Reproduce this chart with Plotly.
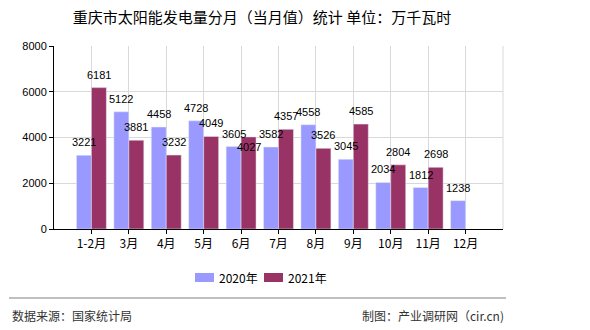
import plotly.graph_objects as go

categories = ["1-2月", "3月", "4月", "5月", "6月", "7月", "8月", "9月", "10月", "11月", "12月"]
values_2020 = [3221, 5122, 4458, 4728, 3605, 3582, 4558, 3045, 2034, 1812, 1238]
values_2021 = [6181, 3881, 3232, 4049, 4027, 4357, 3526, 4585, 2804, 2698, None]
y_ticks = [0, 2000, 4000, 6000, 8000]
series_names = ["2020年", "2021年"]
series_colors = ["#9999FF", "#993366"]

FONT = "SimSun, 'Noto Sans CJK SC', sans-serif"
NUMFONT = "'Liberation Sans', Arial, sans-serif"

W, H = 590, 330
L, R, T, B = 54, 503, 46, 229
pw, ph = R - L, B - T

def px(x):
    return (x - L) / pw

def py(y):
    return (B - y) / ph

fig = go.Figure()
for name, vals, col in zip(series_names, [values_2020, values_2021], series_colors):
    fig.add_trace(go.Bar(
        x=categories, y=vals, name=name, marker_color=col,
        showlegend=False, hoverinfo="x+y",
    ))

# value labels drawn on top of all bars (as in the reference)
slot = pw / 12.0
bar_w = slot * 0.8 / 2
for si, vals in enumerate([values_2020, values_2021]):
    xs = (-0.5 + si) * bar_w
    for cat, v in zip(categories, vals):
        if v is None:
            continue
        dy = 13
        if si == 1 and cat == "6月":
            dy = -10  # label pushed below bar top to avoid neighbour label
        fig.add_annotation(x=cat, y=v, xref="x", yref="y", text=str(v),
                           showarrow=False, xanchor="center", yanchor="middle",
                           xshift=xs, yshift=dy,
                           font=dict(size=11, color="#000000", family=NUMFONT))

fig.update_layout(
    width=W, height=H,
    margin=dict(l=L, r=W - R, t=T, b=H - B, pad=0),
    paper_bgcolor="white", plot_bgcolor="white",
    font=dict(family=FONT, size=12, color="#000000"),
    barmode="group", bargap=0.2, bargroupgap=0,
    title=dict(text="重庆市太阳能发电量分月（当月值）统计 单位：万千瓦时",
               x=262 / W, xref="container", xanchor="center",
               y=1 - 18 / H, yref="container", yanchor="middle",
               font=dict(size=15, color="#000000", family=FONT)),
    showlegend=False,
    xaxis=dict(range=[-1, 11], showline=True, linecolor="#000000", linewidth=1,
               showgrid=True, gridcolor="#D9D9D9", gridwidth=1,
               ticks="outside", ticklen=4, tickcolor="#000000",
               tickfont=dict(size=12), fixedrange=True),
    yaxis=dict(range=[0, 8000], tickvals=y_ticks, showline=True, linecolor="#000000", linewidth=1,
               showgrid=True, gridcolor="#D9D9D9", gridwidth=1,
               ticks="outside", ticklen=4, tickcolor="#000000",
               tickfont=dict(size=11, family=NUMFONT), zeroline=False),
)

fig.add_shape(type="line", xref="paper", yref="paper", x0=1, x1=1, y0=0, y1=1,
              line=dict(color="#D9D9D9", width=1))

# legend (custom swatches)
legend_x = [195, 264]
for xs, name, col in zip(legend_x, series_names, series_colors):
    fig.add_shape(type="rect", xref="paper", yref="paper",
                  x0=px(xs), x1=px(xs + 19), y0=py(282), y1=py(273),
                  fillcolor=col, line=dict(width=0))
    fig.add_annotation(text=name, xref="paper", yref="paper",
                       x=px(xs + 22), y=py(277.5), xanchor="left", yanchor="middle",
                       showarrow=False, font=dict(size=12, color="#000000"))

fig.add_shape(type="line", xref="paper", yref="paper", x0=px(9), x1=px(506),
              y0=py(298), y1=py(298), line=dict(color="#808080", width=1))
fig.add_annotation(text="数据来源：国家统计局", xref="paper", yref="paper",
                   x=px(10), y=py(315), xanchor="left", yanchor="middle",
                   showarrow=False, font=dict(size=12, color="#333333"))
fig.add_annotation(text="制图：产业调研网（cir.cn)", xref="paper", yref="paper",
                   x=px(506), y=py(315), xanchor="right", yanchor="middle",
                   showarrow=False, font=dict(size=12, color="#333333"))

fig.write_html("out.html")
